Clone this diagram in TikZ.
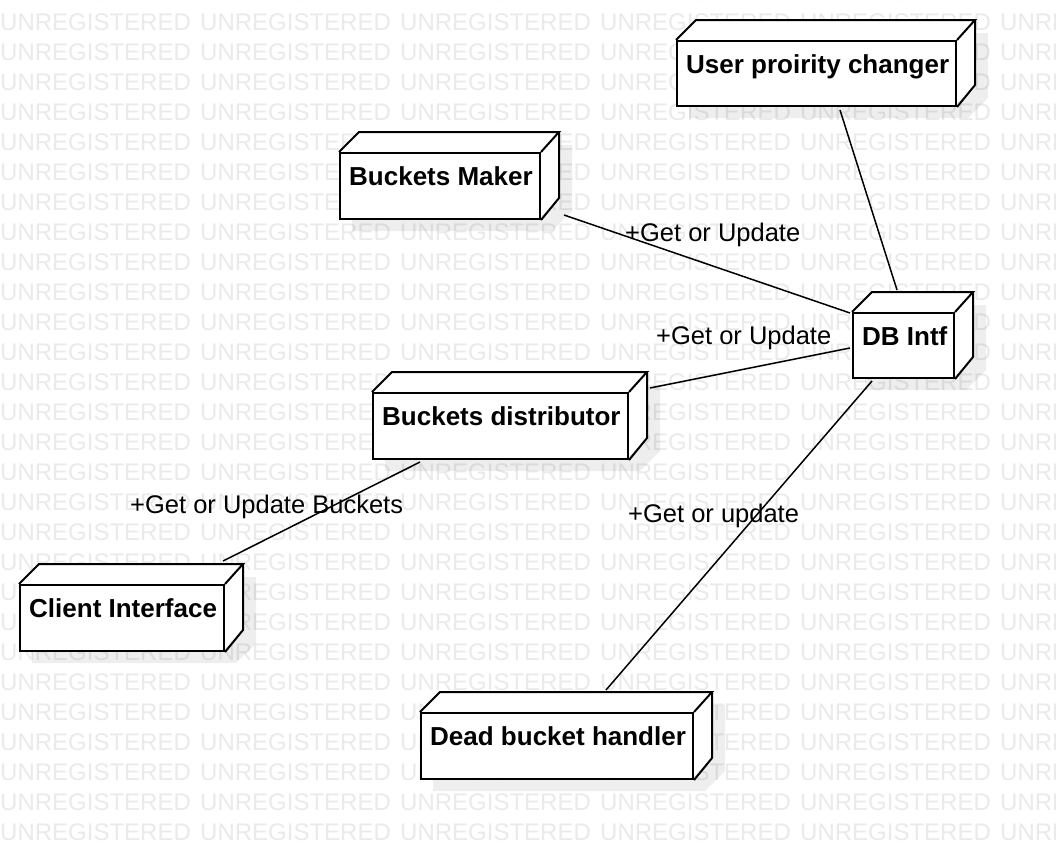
\documentclass[tikz,border=0pt]{standalone}
\usepackage{fontspec}
\setmainfont{Liberation Sans}
\definecolor{wmc}{RGB}{234,234,234}
\tikzset{
  wm/.style={text=wmc, inner sep=0pt, anchor=base west, font=\fontsize{24}{28}\selectfont},
  boxline/.style={line width=2pt, draw=black},
  conn/.style={line width=1.5pt, draw=black},
  boxtext/.style={inner sep=0pt, anchor=base west, font=\bfseries\fontsize{26}{30}\selectfont},
  lbl/.style={inner sep=0pt, anchor=base west, font=\fontsize{25.5}{30}\selectfont},
  shadowc/.style={fill=black, fill opacity=0.065}
}
% #1 name, #2 left, #3 top, #4 right, #5 bottom, #6 text
\newcommand\depnode[6]{%
  \fill[shadowc] (#2+13,#3+13) -- (#2+33,#3-7) -- (#4+33,#3-7) -- (#4+33,#5+-7) -- (#4+13,#5+13) -- (#2+13,#5+13) -- cycle;
  \fill[white] (#2,#3) -- (#2+20,#3-20) -- (#4+20,#3-20) -- (#4+20,#5-20) -- (#4,#5) -- (#2,#5) -- cycle;
  \node[boxline, rectangle, inner sep=0pt, anchor=north west, minimum width=#4pt-#2pt, minimum height=#5pt-#3pt] (#1) at (#2,#3) {};
  \draw[boxline] (#1.north west) -- ++(20,-20) -- (#4+20,#3-20) -- (#1.north east);
  \draw[boxline] (#4+20,#3-20) -- (#4+20,#5-20) -- (#1.south east);
  \node[boxtext] (#1-t) at (#2+10,#3+33) {#6};
}
\begin{document}
\begin{tikzpicture}[x=1pt,y=-1pt]
\useasboundingbox (0,0) rectangle (1056,860);
\clip (0,0) rectangle (1056,860);
\fill[white] (0,0) rectangle (1056,860);
% watermark
\foreach \r in {0,...,28}{
  \foreach \c in {0,...,5}{
    \node[wm] at (200*\c,30*\r) {UNREGISTERED};
  }
}
% nodes
\depnode{upc}{676}{40}{955}{105}{User proirity changer}
\depnode{bm}{339}{152}{539}{218}{Buckets Maker}
\depnode{bd}{372}{392}{627}{458}{Buckets distributor}
\depnode{db}{852}{312}{953}{377}{DB Intf}
\depnode{ci}{19}{584}{223}{650}{Client Interface}
\depnode{dh}{420}{712}{692}{778}{Dead bucket handler}
% connector end points
\coordinate (bm-e) at (564,215);
\coordinate (db-a) at (850,313);
\coordinate (bd-e) at (650,388);
\coordinate (db-b) at (850,348);
\coordinate (db-c) at (872,381);
\coordinate (dh-e) at (606,690);
\coordinate (upc-e) at (840,110);
\coordinate (db-d) at (897,290);
\coordinate (bd-s) at (420,462);
\coordinate (ci-e) at (223,561);
% connectors
\draw[conn] (bm-e) -- (db-a);
\draw[conn] (bd-e) -- (db-b);
\draw[conn] (db-c) -- (dh-e);
\draw[conn] (upc-e) -- (db-d);
\draw[conn] (bd-s) -- (ci-e);
% labels
\node[lbl] (l1) at (625,241) {+Get or Update};
\node[lbl] (l2) at (656,344) {+Get or Update};
\node[lbl] (l3) at (628,522) {+Get or update};
\node[lbl] (l4) at (130,513) {+Get or Update Buckets};
\end{tikzpicture}
\end{document}
